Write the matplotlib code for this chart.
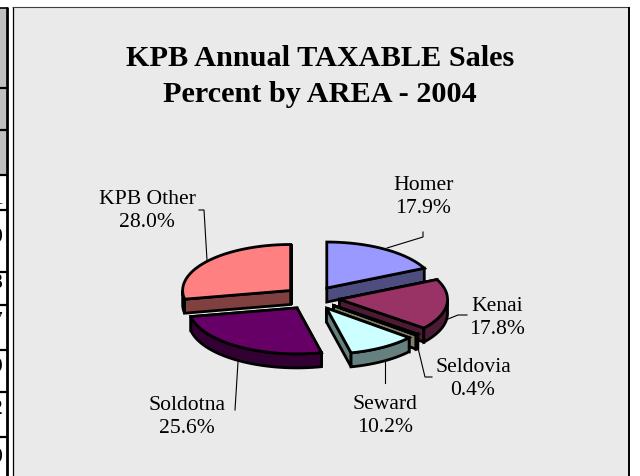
import matplotlib
matplotlib.use("Agg")
import matplotlib.pyplot as plt
from matplotlib.patches import Polygon, Rectangle
import numpy as np

# chart data
areas = ["Homer", "Kenai", "Seldovia", "Seward", "Soldotna", "KPB Other"]
shares = [17.9, 17.8, 0.4, 10.2, 25.6, 28.0]
top_cols = ["#9999FF", "#993366", "#FFFFCC", "#CCFFFF", "#660066", "#FF8080"]
side_cols = ["#4D4D80", "#4D1A33", "#808066", "#668080", "#330033", "#804040"]
title_lines = ["KPB Annual TAXABLE Sales", "Percent by AREA - 2004"]
left_digits = ["1", "0", "8", "7", "9", "2", "0"]

# layout, pixels
cx, cy = 312, 298
rx, ry = 108, 46
depth = 14
explode = 27.7
lab_pos = [(423, 197), (497, 318), (473, 379), (385, 416), (187, 417), (147, 211)]
leaders = [
    [(423, 232), (423, 237), (387, 248)],
    [(467, 315), (458, 315), (448, 319)],
    [(432, 377), (425, 377), (418, 348)],
    [(385, 383), (385, 362)],
    [(235, 410), (238, 362)],
    [(199, 210), (204, 210), (207, 260)],
]
digit_y = [199, 238, 283, 322, 368, 410, 458]
row_lines = [88, 130, 175, 210, 272, 305, 350, 392, 437]

plt.rcParams['font.family'] = ['Liberation Serif', 'DejaVu Serif']
fig = plt.figure(figsize=(6.4, 4.76), dpi=100)
ax = fig.add_axes([0, 0, 1, 1])
ax.set_xlim(0, 640)
ax.set_ylim(476, 0)
ax.axis('off')


def pt(t, ox, oy, dz=0):
    return ox + rx * np.sin(t), oy - ry * np.cos(t) + dz


# strip of the table on the left
ax.add_patch(Rectangle((0, 8), 6, 167, fc="#C0C0C0", ec="none", zorder=1))
for y in row_lines:
    ax.plot([0, 7], [y, y], color="k", lw=1.6, zorder=2, solid_capstyle='butt')
ax.plot([0, 8], [7.5, 7.5], color="k", lw=1.2, zorder=2, solid_capstyle='butt')
ax.plot([7.4, 7.4], [7, 476], color="k", lw=2.0, zorder=2, solid_capstyle='butt')
for d, y in zip(left_digits, digit_y):
    ax.text(2.5, y, d, ha='right', va='center', fontsize=15.5, zorder=2)

# panel
ax.add_patch(Rectangle((14, 7), 614, 480, fc="#EAEAEA", ec="none", zorder=1))
ax.plot([12.5, 12.5], [6.5, 476], color="k", lw=0.9, zorder=2, solid_capstyle='butt')
ax.plot([12, 629], [6.8, 6.8], color="#404040", lw=0.8, zorder=2, solid_capstyle='butt')
ax.plot([628.5, 628.5], [6.5, 476], color="k", lw=1.4, zorder=2, solid_capstyle='butt')

ax.text(320, 59, title_lines[0], ha='center', va='center', fontsize=21.8, fontweight='bold', zorder=5)
ax.text(320, 95, title_lines[1], ha='center', va='center', fontsize=21.8, fontweight='bold', zorder=5)

# pie slices, clockwise from 12 o'clock
vals = np.array(shares)
edges = np.concatenate([[0], np.cumsum(vals)]) / vals.sum() * 2 * np.pi
slices = []
for i in range(len(vals)):
    t0, t1 = edges[i], edges[i + 1]
    mid = (t0 + t1) / 2
    ox = cx + explode * np.sin(mid)
    oy = cy - explode * ry / rx * np.cos(mid)
    slices.append((i, t0, t1, ox, oy))

# paint the back slices first
order = [5, 0, 1, 2, 3, 4]
z = 10
for i in order:
    _, t0, t1, ox, oy = slices[i]
    for t in (t0, t1):
        ex, ey = pt(t, ox, oy)
        quad = [(ox, oy), (ex, ey), (ex, ey + depth), (ox, oy + depth)]
        ax.add_patch(Polygon(quad, fc=side_cols[i], ec="k", lw=2.0, joinstyle='miter', zorder=z))
    a = max(t0, np.pi / 2)
    b = min(t1, 3 * np.pi / 2)
    if b > a:
        ts = np.linspace(a, b, 40)
        xs, ys = pt(ts, ox, oy)
        rim = list(zip(xs, ys)) + list(zip(xs[::-1], ys[::-1] + depth))
        ax.add_patch(Polygon(rim, fc=side_cols[i], ec="k", lw=2.0, zorder=z))
    ts = np.linspace(t0, t1, 60)
    xs, ys = pt(ts, ox, oy)
    top = [(ox, oy)] + list(zip(xs, ys))
    ax.add_patch(Polygon(top, fc=top_cols[i], ec="k", lw=2.0, joinstyle='miter', zorder=z))
    z += 1

# labels and leader lines
for name, share, (lx, ly), ln in zip(areas, shares, lab_pos, leaders):
    ax.text(lx, ly, f"{name}\n{share:.1f}%", ha='center', va='center', fontsize=15.6,
            linespacing=1.32, zorder=30)
    ax.plot([p[0] for p in ln], [p[1] for p in ln], color="k", lw=0.8, zorder=9)

fig.savefig("out.png", dpi=100)
